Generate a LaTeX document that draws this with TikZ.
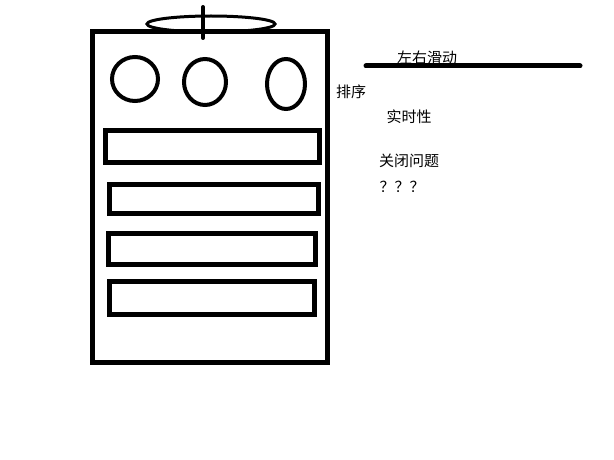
\documentclass[tikz,border=0pt]{standalone}
\usepackage{fontspec}
\newfontfamily\cjk{Noto Sans CJK SC}
\begin{document}
\begin{tikzpicture}[x=1pt,y=-1pt,
  thick5/.style={line width=5pt},
  ring/.style={line width=4pt},
  lbl/.style={font=\cjk\fontsize{15}{17}\selectfont, inner sep=0pt}]
\useasboundingbox (0,0) rectangle (614,460);
\fill[white] (0,0) rectangle (614,460);
% main frame
\draw[thick5] (92,32) rectangle (327,362);
% top ellipse and stick
\draw[line width=3pt] (211,24) ellipse [x radius=64, y radius=8];
\draw[line width=4pt, line cap=round] (203,7) -- (203,38);
% circles
\draw[ring] (135,79) ellipse [x radius=23, y radius=22];
\draw[ring] (205,82) ellipse [x radius=21, y radius=23];
\draw[ring] (286,84) ellipse [x radius=19, y radius=25];
% bars
\draw[thick5] (105,131) rectangle (319,162);
\draw[thick5] (109,184) rectangle (318,213);
\draw[thick5] (108,233) rectangle (315,264);
\draw[thick5] (109,281) rectangle (314,314);
% slide line
\coordinate (sa) at (366,66);
\coordinate (sb) at (580,66);
\draw[thick5, line cap=round] (sa) -- (sb);
% labels
\node[lbl] (t1) at (427,58) {左右滑动};
\node[lbl] (t2) at (351,92) {排序};
\node[lbl] (t3) at (409,117) {实时性};
\node[lbl] (t4) at (409,161) {关闭问题};
\node[lbl] (t5) at (402,187) {？？？};
\end{tikzpicture}
\end{document}
